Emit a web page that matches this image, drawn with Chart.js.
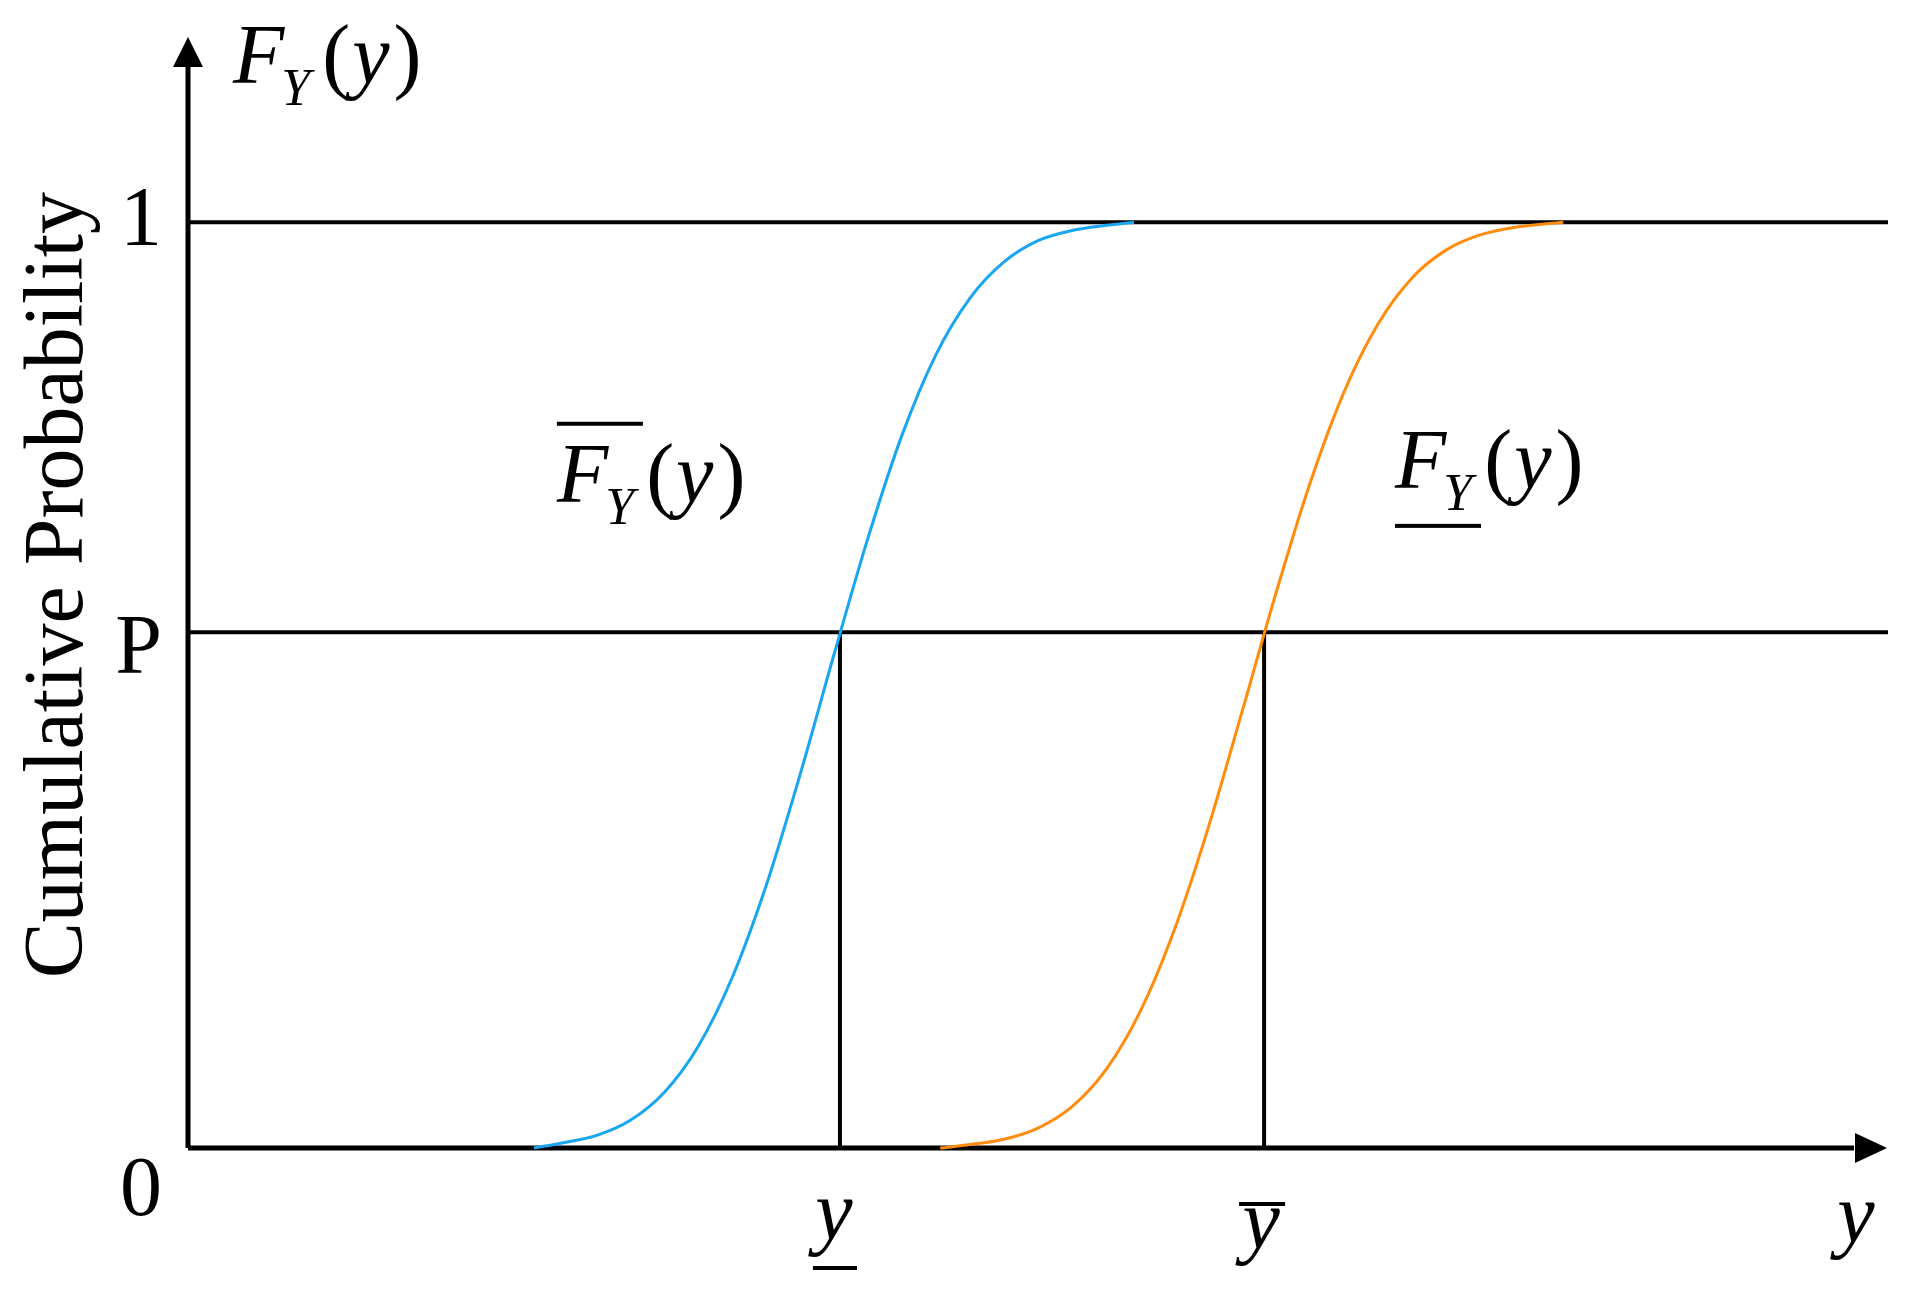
<!DOCTYPE html>
<html><head><meta charset="utf-8">
<script src="https://cdn.jsdelivr.net/npm/chart.js@4"></script>
<style>html,body{margin:0;padding:0;background:#fff;} canvas{display:block;}</style>
</head><body>
<canvas id="c" width="1905" height="1291"></canvas>
<script>
// ---- data (abstract units: x in 0..100, probability in 0..1) ----
const upperCdfX = [20.35, 22, 24, 26, 28, 30, 32, 34, 36, 38, 40, 42, 44, 46, 48, 50, 52, 54, 55.65];
const upperCdfY = [0, 0.0055, 0.0134, 0.0297, 0.0597, 0.1094, 0.1836, 0.283, 0.403, 0.533, 0.659, 0.770, 0.857, 0.918, 0.957, 0.980, 0.991, 0.9966, 1.0];
const lowerCdfX = [44.25, 46, 48, 50, 52, 54, 56, 58, 60, 62, 64, 66, 68, 70, 72, 74, 76, 78, 80.9];
const lowerCdfY = [0, 0.0037, 0.0094, 0.0215, 0.0447, 0.0847, 0.147, 0.2346, 0.345, 0.471, 0.5995, 0.718, 0.8165, 0.890, 0.9398, 0.9698, 0.9862, 0.9943, 1.0];
const pLevel = 0.557;
const quantileLower = 38.35;
const quantileUpper = 63.3;
const xAxisMax = 100;
const yAxisMax = 1.2;
const probTickValues = [0, pLevel, 1];
const probTickLabels = ['0', 'P', '1'];

const toPts = (xs, ys) => xs.map((x, i) => ({x: x, y: ys[i]}));

const BLUE = '#18A6F2';
const ORANGE = '#FF8C0C';
const SERIF = '"Liberation Serif", "Times New Roman", serif';

function lineDs(points, color, width, order, smooth) {
  return {data: points, borderColor: color, borderWidth: width, showLine: true,
    pointRadius: 0, fill: false, clip: false, order: order,
    cubicInterpolationMode: smooth ? 'monotone' : 'default', tension: 0};
}

function drawFY(ctx, x, base, mark) {
  ctx.textAlign = 'left';
  ctx.textBaseline = 'alphabetic';
  ctx.font = 'italic 84px ' + SERIF;
  ctx.fillText('F', x, base);
  const sx = x + ctx.measureText('F').width - 3;
  ctx.font = 'italic 52px ' + SERIF;
  ctx.fillText('Y', sx, base + 22);
  let px = sx + ctx.measureText('Y').width + 12;
  ctx.font = '84px ' + SERIF;
  ctx.fillText('(', px, base);
  px += ctx.measureText('(').width + 2;
  ctx.font = 'italic 84px ' + SERIF;
  ctx.fillText('y', px, base);
  px += ctx.measureText('y').width + 4;
  ctx.font = '84px ' + SERIF;
  ctx.fillText(')', px, base);
  if (mark === 'over') ctx.fillRect(x, base - 80, 86, 4);
  if (mark === 'under') ctx.fillRect(x, base + 36, 86, 4);
}

const decor = {
  id: 'decor',
  afterDatasetsDraw(chart) {
    const ctx = chart.ctx;
    const xs = chart.scales.x, ys = chart.scales.y;
    const x0 = xs.getPixelForValue(0), y0 = ys.getPixelForValue(0);
    const yTop = ys.getPixelForValue(yAxisMax), xRight = xs.getPixelForValue(xAxisMax);
    ctx.save();
    ctx.fillStyle = '#000';
    // arrow heads
    ctx.beginPath();
    ctx.moveTo(x0, yTop); ctx.lineTo(x0 - 15, yTop + 30); ctx.lineTo(x0 + 15, yTop + 30); ctx.closePath(); ctx.fill();
    ctx.beginPath();
    ctx.moveTo(xRight - 1, y0); ctx.lineTo(xRight - 33, y0 - 15); ctx.lineTo(xRight - 33, y0 + 15); ctx.closePath(); ctx.fill();

    // probability tick labels
    ctx.font = '84px ' + SERIF;
    ctx.textAlign = 'right';
    ctx.textBaseline = 'alphabetic';
    const offs = [67, 41, 23];
    probTickValues.forEach((v, i) => {
      ctx.fillText(probTickLabels[i], x0 - 26, ys.getPixelForValue(v) + offs[i]);
    });

    // axis title
    ctx.save();
    ctx.translate(82, (ys.getPixelForValue(0) + ys.getPixelForValue(1)) / 2 - 100);
    ctx.rotate(-Math.PI / 2);
    ctx.textAlign = 'center';
    ctx.fillText('Cumulative Probability', 0, 0);
    ctx.restore();

    // x labels
    ctx.font = 'italic 84px ' + SERIF;
    ctx.textAlign = 'center';
    const qlx = xs.getPixelForValue(quantileLower) - 6;
    ctx.fillText('y', qlx, y0 + 91);
    ctx.fillRect(qlx - 21, y0 + 118, 44, 4);
    const qux = xs.getPixelForValue(quantileUpper) - 3;
    ctx.fillText('y', qux, y0 + 100);
    ctx.fillRect(qux - 22, y0 + 54, 46, 4);
    ctx.fillText('y', xRight - 32, y0 + 94);

    // function labels
    drawFY(ctx, x0 + 45, ys.getPixelForValue(1.15), null);
    drawFY(ctx, xs.getPixelForValue(21.7), ys.getPixelForValue(0.698), 'over');
    drawFY(ctx, xs.getPixelForValue(71.0), ys.getPixelForValue(0.713), 'under');
    ctx.restore();
  }
};

new Chart(document.getElementById('c'), {
  type: 'scatter',
  data: {
    datasets: [
      lineDs(toPts(upperCdfX, upperCdfY), BLUE, 3, 1, true),
      lineDs(toPts(lowerCdfX, lowerCdfY), ORANGE, 3, 1, true),
      lineDs([{x: 0, y: 1}, {x: xAxisMax, y: 1}], '#000', 4, 2),
      lineDs([{x: 0, y: pLevel}, {x: xAxisMax, y: pLevel}], '#000', 4, 2),
      lineDs([{x: quantileLower, y: 0}, {x: quantileLower, y: pLevel}], '#000', 4, 2),
      lineDs([{x: quantileUpper, y: 0}, {x: quantileUpper, y: pLevel}], '#000', 4, 2),
      lineDs([{x: 0, y: 0}, {x: xAxisMax - 2, y: 0}], '#000', 5, 3),
      lineDs([{x: 0, y: 0}, {x: 0, y: yAxisMax - 0.02}], '#000', 5, 3)
    ]
  },
  options: {
    responsive: false,
    animation: false,
    layout: {padding: {left: 188, top: 37, right: 17, bottom: 143}},
    plugins: {legend: {display: false}, tooltip: {enabled: false}},
    scales: {
      x: {type: 'linear', min: 0, max: xAxisMax, display: false},
      y: {type: 'linear', min: 0, max: yAxisMax, display: false}
    }
  },
  plugins: [decor]
});
</script>
</body></html>
